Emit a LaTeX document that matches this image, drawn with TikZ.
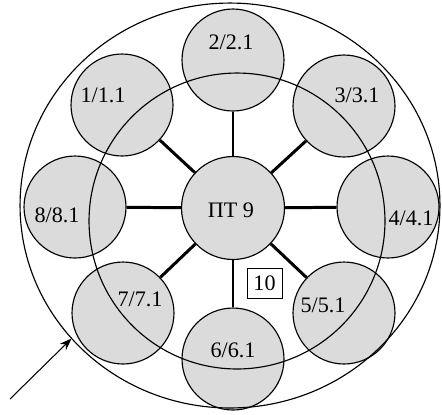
\documentclass[tikz,border=0pt]{standalone}
\usepackage{fontspec}
\setmainfont{Liberation Serif}
\usetikzlibrary{shapes.geometric,arrows.meta}

\tikzset{
  cell/.style={circle, draw, line width=0.65pt, fill=black!14, minimum size=2.04cm, inner sep=0pt},
  hub/.style={cell, minimum size=2.06cm},
  lbl/.style={font=\fontsize{12.6}{14}\selectfont, inner sep=0pt},
  spoke/.style={line width=1.7pt},
  ring/.style={draw, line width=0.65pt, inner sep=0pt, outer sep=0pt}
}

\begin{document}
\begin{tikzpicture}[x=0.02cm,y=-0.02cm]
\useasboundingbox (0,0) rectangle (442,414);
\def\cx{233}
\def\cy{208}

\node[hub] (hub) at (\cx,\cy) {};
\node[cell] (c1) at (122,105) {};
\node[cell] (c2) at (\cx,60) {};
\node[cell] (c3) at (344,106) {};
\node[cell] (c4) at (388,207) {};
\node[cell] (c5) at (344,313) {};
\node[cell] (c6) at (\cx,359) {};
\node[cell] (c7) at (123,313) {};
\node[cell] (c8) at (75,207) {};

\node[ring, circle, minimum size=5.92cm] (inner) at (237,221) {};
\node[ring, ellipse, minimum width=8.4cm, minimum height=8.1cm] (outer) at (230,205.5) {};

\foreach \k in {1,...,8}
  \draw[spoke] (hub) -- (c\k);

\node[lbl] (t9) at (231,210) {ПТ 9};
\node[lbl] (t1) at (103,95) {1/1.1};
\node[lbl] (t2) at (231,42) {2/2.1};
\node[lbl] (t3) at (357,95) {3/3.1};
\node[lbl] (t4) at (411,218) {4/4.1};
\node[lbl] (t5) at (323,305) {5/5.1};
\node[lbl] (t6) at (233,350) {6/6.1};
\node[lbl] (t7) at (140,299) {7/7.1};
\node[lbl] (t8) at (57,215) {8/8.1};
% box in the gap under the hub
\node[lbl, draw, line width=0.5pt, minimum width=0.7cm, minimum height=0.6cm] (t10) at (264.5,283) {10};

\coordinate (tail) at (10,399);
\draw[-{Stealth[length=7pt,width=5pt]}, line width=0.6pt] (tail) -- (outer.220);

\end{tikzpicture}
\end{document}
